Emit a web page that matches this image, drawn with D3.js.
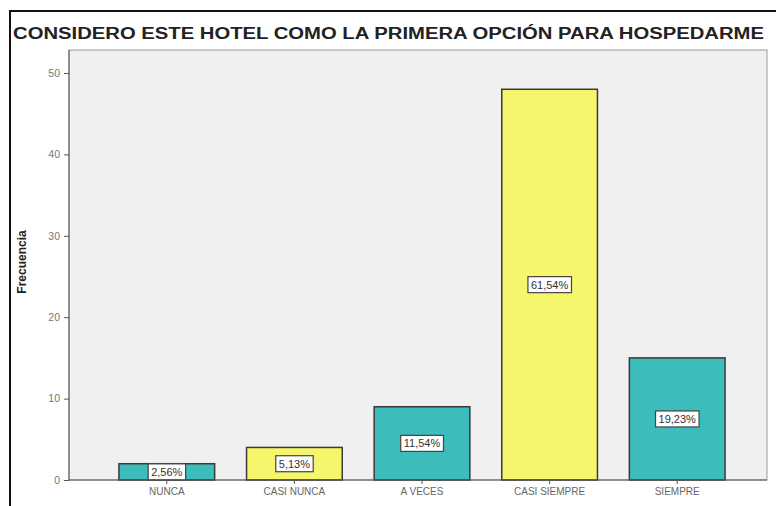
<!DOCTYPE html>
<html>
<head>
<meta charset="utf-8">
<script src="https://cdn.jsdelivr.net/npm/d3@7"></script>
<style>
  html, body { margin: 0; padding: 0; background: #ffffff; }
  svg { display: block; }
</style>
</head>
<body>
<svg id="chart" width="776" height="506"></svg>
<script>
// Respuestas: "Considero este hotel como la primera opción para hospedarme"
const categories = ["NUNCA", "CASI NUNCA", "A VECES", "CASI SIEMPRE", "SIEMPRE"];
const counts = [2, 4, 9, 48, 15];
const percentLabels = ["2,56%", "5,13%", "11,54%", "61,54%", "19,23%"];
const barColors = ["#3cbdbb", "#f6f66c", "#3cbdbb", "#f6f66c", "#3cbdbb"];
const yTicks = [0, 10, 20, 30, 40, 50];

const svg = d3.select("#chart");
const W = 776, H = 506;

// Outer frame (extends past the visible area on the right and bottom)
svg.append("rect")
  .attr("x", 10).attr("y", 11)
  .attr("width", W + 20).attr("height", H + 20)
  .attr("fill", "#ffffff")
  .attr("stroke", "#111")
  .attr("stroke-width", 2);

// Title
const title = svg.append("text")
  .attr("x", 13).attr("y", 39)
  .attr("font-family", "Liberation Sans, Arial, sans-serif")
  .attr("font-weight", "bold")
  .attr("font-size", 16)
  .attr("fill", "#222")
  .text("CONSIDERO ESTE HOTEL COMO LA PRIMERA OPCIÓN PARA HOSPEDARME");
title.attr("textLength", 751).attr("lengthAdjust", "spacingAndGlyphs");

// Plot area
const plot = { left: 69, right: 767, top: 50, bottom: 480 };

const y = d3.scaleLinear()
  .domain([0, 50])
  .range([plot.bottom, 73]);

const x = d3.scaleBand()
  .domain(categories)
  .range([103, 741])
  .paddingInner(0.25)
  .paddingOuter(0.125);

svg.append("rect")
  .attr("x", plot.left).attr("y", plot.top)
  .attr("width", plot.right - plot.left)
  .attr("height", plot.bottom - plot.top)
  .attr("fill", "#f0f0f0")
  .attr("stroke", "#9a9a9a")
  .attr("stroke-width", 1);

// Bars
const data = categories.map((c, i) => ({ cat: c, value: counts[i], label: percentLabels[i], color: barColors[i] }));

svg.append("g").selectAll("rect")
  .data(data)
  .join("rect")
  .attr("x", d => x(d.cat))
  .attr("y", d => y(d.value))
  .attr("width", x.bandwidth())
  .attr("height", d => y(0) - y(d.value))
  .attr("fill", d => d.color)
  .attr("stroke", "#3a3a3a")
  .attr("stroke-width", 1.5);

// Percentage labels in boxes at mid-height of each bar
const labelG = svg.append("g");
data.forEach(d => {
  const cx = x(d.cat) + x.bandwidth() / 2;
  const cy = y(d.value / 2);
  const g = labelG.append("g");
  const t = g.append("text")
    .attr("x", cx).attr("y", cy + 4)
    .attr("text-anchor", "middle")
    .attr("font-family", "Liberation Sans, Arial, sans-serif")
    .attr("font-size", 11)
    .attr("fill", "#333")
    .text(d.label);
  const bb = t.node().getBBox();
  g.insert("rect", "text")
    .attr("x", bb.x - 3).attr("y", cy - 8)
    .attr("width", bb.width + 6).attr("height", 16)
    .attr("fill", "#ffffff")
    .attr("stroke", "#444")
    .attr("stroke-width", 1.2);
});

// Y axis
const yAxis = svg.append("g")
  .attr("transform", `translate(${plot.left},0)`)
  .call(d3.axisLeft(y).tickValues(yTicks).tickSize(5).tickPadding(4));
yAxis.select(".domain").attr("stroke", "#555").attr("d", `M0,${plot.top}V${plot.bottom}`);
yAxis.selectAll(".tick line").attr("stroke", "#555");
yAxis.selectAll(".tick text")
  .attr("font-family", "Liberation Sans, Arial, sans-serif")
  .attr("font-size", 10.5)
  .attr("fill", "#777");

// X axis
const xAxis = svg.append("g")
  .attr("transform", `translate(0,${plot.bottom})`)
  .call(d3.axisBottom(x).tickSize(4).tickPadding(4));
xAxis.select(".domain").attr("stroke", "#555").attr("d", `M${plot.left},0H${plot.right}`);
xAxis.selectAll(".tick line").attr("stroke", "#555");
xAxis.selectAll(".tick text")
  .attr("font-family", "Liberation Sans, Arial, sans-serif")
  .attr("font-size", 10)
  .attr("fill", "#666");

// Y axis title
svg.append("text")
  .attr("transform", "translate(26,262) rotate(-90)")
  .attr("text-anchor", "middle")
  .attr("font-family", "Liberation Sans, Arial, sans-serif")
  .attr("font-weight", "bold")
  .attr("font-size", 12)
  .attr("fill", "#222")
  .text("Frecuencia");
</script>
</body>
</html>
